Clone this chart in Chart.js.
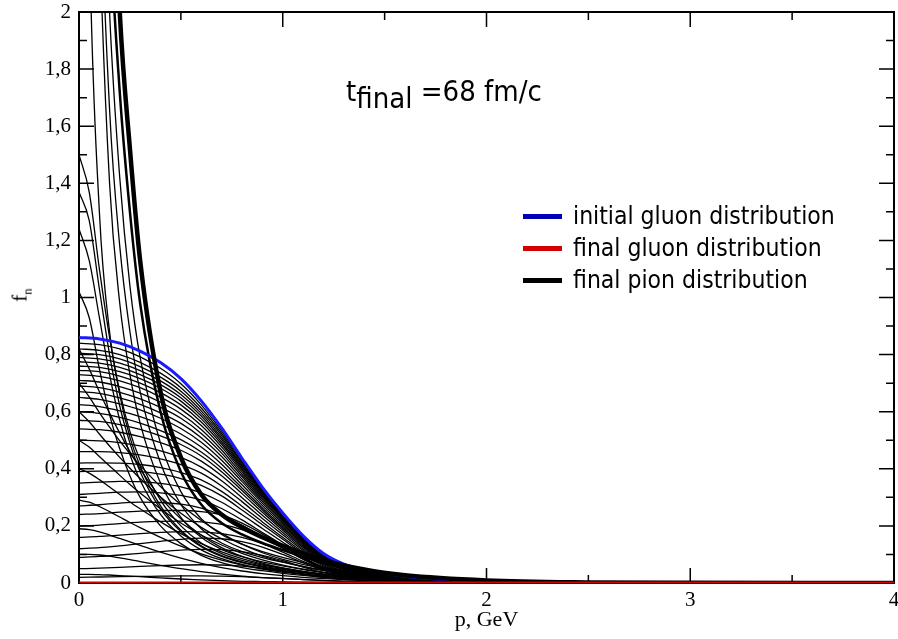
<!DOCTYPE html>
<html>
<head>
<meta charset="utf-8">
<script src="https://cdn.jsdelivr.net/npm/chart.js@4.4.1/dist/chart.umd.min.js"></script>
<style>
  body{margin:0;background:#fff;}
  #wrap{position:relative;width:898px;height:639px;}
  .txt{position:absolute;font-family:"DejaVu Sans Condensed","DejaVu Sans",sans-serif;color:#000;white-space:nowrap;}
  #tfinal{left:346px;top:73px;font-size:29px;line-height:36px;}
  #tfinal sub{font-size:100%;vertical-align:-7px;line-height:0;}
  .leg{left:523px;height:28px;line-height:28px;font-size:24.5px;}
  .leg i{display:inline-block;width:39px;height:5px;vertical-align:middle;margin-right:11px;position:relative;top:-1px;}
  #ylab{left:15px;top:281px;font-family:"Liberation Serif",serif;font-size:21px;transform:rotate(-90deg);transform-origin:center;}
  #ylab sub{font-size:60%;}
</style>
</head>
<body>
<div id="wrap">
  <canvas id="chart" width="898" height="639"></canvas>
  <div class="txt" id="tfinal">t<sub>final</sub> =68 fm/c</div>
  <div class="txt leg" style="top:202px"><i style="background:#0000b4"></i>initial gluon distribution</div>
  <div class="txt leg" style="top:234px"><i style="background:#d20000"></i>final gluon distribution</div>
  <div class="txt leg" style="top:266px"><i style="background:#000"></i>final pion distribution</div>
  <div class="txt" id="ylab">f<sub>n</sub></div>
</div>
<script>
// axis ticks
const xMajor = [0, 1, 2, 3, 4];
const xMinor = [0.5, 1.5, 2.5, 3.5];
const yMajor = [0, 0.2, 0.4, 0.6, 0.8, 1, 1.2, 1.4, 1.6, 1.8, 2];
const yMinor = [0.1, 0.3, 0.5, 0.7, 0.9, 1.1, 1.3, 1.5, 1.7, 1.9];

// momentum grids, GeV
const pGluon = [0, 0.1, 0.2, 0.3, 0.4, 0.5, 0.6, 0.7, 0.8, 0.9, 1.0, 1.1, 1.2, 1.3, 1.4, 1.6, 1.8, 2.0, 2.5, 3, 4];
const pPion  = [0, 0.05, 0.1, 0.15, 0.2, 0.25, 0.3, 0.4, 0.5, 0.6, 0.7, 0.8, 0.9, 1.0, 1.2, 1.4, 1.6, 2.0, 2.5, 3, 4];
const pFinal = [0, 4];

// initial gluon distribution (blue)
const initialGluon = [0.86, 0.855, 0.84, 0.812, 0.772, 0.716, 0.638, 0.543, 0.437, 0.335, 0.245, 0.165, 0.103, 0.066, 0.046, 0.024, 0.012, 0.006, 0.002, 0.001, 0];

// final gluon distribution (red)
const finalGluon = [0, 0];

// final pion distribution (thick black)
const finalPion = [12, 8, 4.6, 2.9, 2.0, 1.52, 1.13, 0.67, 0.44, 0.31, 0.24, 0.195, 0.16, 0.13, 0.08, 0.047, 0.027, 0.009, 0.002, 0.0005, 0];

// intermediate gluon distributions
const gluonSteps = [
  [0.84, 0.835, 0.82, 0.792, 0.752, 0.698, 0.624, 0.532, 0.43, 0.331, 0.243, 0.163, 0.102, 0.065, 0.045, 0.023, 0.012, 0.006, 0.002, 0.001, 0],
  [0.82, 0.815, 0.80, 0.773, 0.735, 0.684, 0.613, 0.524, 0.424, 0.327, 0.241, 0.162, 0.101, 0.065, 0.045, 0.023, 0.012, 0.006, 0.002, 0.001, 0],
  [0.805, 0.80, 0.785, 0.758, 0.721, 0.672, 0.603, 0.517, 0.419, 0.324, 0.239, 0.161, 0.1, 0.064, 0.044, 0.023, 0.012, 0.006, 0.002, 0.001, 0],
  [0.79, 0.785, 0.77, 0.744, 0.708, 0.66, 0.594, 0.509, 0.413, 0.32, 0.237, 0.159, 0.099, 0.064, 0.044, 0.023, 0.012, 0.006, 0.002, 0.001, 0],
  [0.775, 0.77, 0.755, 0.73, 0.695, 0.649, 0.585, 0.502, 0.408, 0.317, 0.235, 0.158, 0.098, 0.063, 0.043, 0.023, 0.012, 0.006, 0.002, 0.001, 0],
  [0.76, 0.755, 0.74, 0.716, 0.682, 0.637, 0.575, 0.494, 0.402, 0.313, 0.232, 0.156, 0.097, 0.062, 0.043, 0.022, 0.011, 0.006, 0.002, 0.001, 0],
  [0.745, 0.74, 0.725, 0.70, 0.667, 0.624, 0.564, 0.486, 0.396, 0.309, 0.229, 0.154, 0.096, 0.061, 0.042, 0.022, 0.011, 0.006, 0.002, 0.001, 0],
  [0.73, 0.724, 0.708, 0.684, 0.651, 0.609, 0.552, 0.477, 0.389, 0.304, 0.226, 0.152, 0.094, 0.06, 0.041, 0.022, 0.011, 0.005, 0.002, 0.001, 0],
  [0.71, 0.704, 0.688, 0.665, 0.633, 0.593, 0.538, 0.466, 0.381, 0.298, 0.222, 0.149, 0.092, 0.059, 0.041, 0.022, 0.011, 0.005, 0.002, 0.001, 0],
  [0.69, 0.684, 0.668, 0.645, 0.615, 0.577, 0.524, 0.455, 0.373, 0.292, 0.218, 0.146, 0.09, 0.058, 0.04, 0.021, 0.011, 0.005, 0.002, 0.001, 0],
  [0.67, 0.664, 0.648, 0.626, 0.596, 0.559, 0.509, 0.443, 0.364, 0.286, 0.213, 0.143, 0.088, 0.057, 0.039, 0.021, 0.011, 0.005, 0.002, 0.001, 0],
  [0.65, 0.643, 0.627, 0.606, 0.577, 0.541, 0.493, 0.43, 0.355, 0.279, 0.208, 0.14, 0.086, 0.056, 0.038, 0.02, 0.01, 0.005, 0.002, 0.001, 0],
  [0.625, 0.618, 0.603, 0.583, 0.556, 0.522, 0.476, 0.416, 0.344, 0.271, 0.202, 0.136, 0.084, 0.054, 0.037, 0.02, 0.01, 0.005, 0.002, 0.001, 0],
  [0.60, 0.594, 0.58, 0.56, 0.534, 0.502, 0.459, 0.402, 0.333, 0.263, 0.196, 0.132, 0.082, 0.053, 0.036, 0.019, 0.01, 0.005, 0.002, 0.001, 0],
  [0.57, 0.566, 0.555, 0.538, 0.515, 0.485, 0.445, 0.39, 0.324, 0.256, 0.191, 0.128, 0.079, 0.051, 0.035, 0.019, 0.01, 0.005, 0.002, 0.001, 0],
  [0.54, 0.537, 0.528, 0.513, 0.492, 0.465, 0.427, 0.376, 0.313, 0.248, 0.185, 0.124, 0.077, 0.05, 0.034, 0.018, 0.009, 0.005, 0.002, 0.001, 0],
  [0.50, 0.498, 0.492, 0.48, 0.463, 0.44, 0.406, 0.358, 0.299, 0.237, 0.177, 0.119, 0.074, 0.048, 0.033, 0.018, 0.009, 0.004, 0.002, 0.001, 0],
  [0.46, 0.46, 0.457, 0.449, 0.435, 0.415, 0.385, 0.34, 0.285, 0.226, 0.169, 0.114, 0.071, 0.046, 0.031, 0.017, 0.009, 0.004, 0.002, 0.001, 0],
  [0.42, 0.421, 0.42, 0.415, 0.404, 0.387, 0.361, 0.321, 0.269, 0.214, 0.16, 0.108, 0.067, 0.043, 0.03, 0.016, 0.008, 0.004, 0.001, 0, 0],
  [0.39, 0.392, 0.393, 0.39, 0.381, 0.366, 0.342, 0.305, 0.256, 0.204, 0.153, 0.103, 0.064, 0.041, 0.029, 0.015, 0.008, 0.004, 0.001, 0, 0],
  [0.35, 0.353, 0.356, 0.355, 0.349, 0.337, 0.316, 0.283, 0.239, 0.191, 0.143, 0.097, 0.06, 0.039, 0.027, 0.014, 0.007, 0.004, 0.001, 0, 0],
  [0.31, 0.314, 0.318, 0.319, 0.316, 0.307, 0.29, 0.261, 0.221, 0.177, 0.133, 0.09, 0.056, 0.036, 0.025, 0.013, 0.007, 0.003, 0.001, 0, 0],
  [0.27, 0.274, 0.28, 0.283, 0.282, 0.276, 0.262, 0.237, 0.202, 0.162, 0.122, 0.083, 0.052, 0.033, 0.023, 0.012, 0.006, 0.003, 0.001, 0, 0],
  [0.24, 0.243, 0.248, 0.252, 0.254, 0.254, 0.25, 0.238, 0.21, 0.172, 0.13, 0.088, 0.054, 0.035, 0.024, 0.013, 0.007, 0.003, 0.001, 0, 0],
  [0.20, 0.203, 0.208, 0.213, 0.216, 0.217, 0.214, 0.205, 0.187, 0.158, 0.122, 0.084, 0.052, 0.034, 0.023, 0.012, 0.006, 0.003, 0.001, 0, 0],
  [0.16, 0.163, 0.168, 0.173, 0.177, 0.18, 0.179, 0.173, 0.16, 0.138, 0.108, 0.076, 0.048, 0.031, 0.021, 0.011, 0.006, 0.003, 0.001, 0, 0],
  [0.12, 0.124, 0.13, 0.138, 0.146, 0.153, 0.157, 0.155, 0.145, 0.126, 0.10, 0.071, 0.045, 0.029, 0.02, 0.011, 0.005, 0.002, 0.001, 0, 0],
  [0.09, 0.093, 0.098, 0.104, 0.11, 0.115, 0.118, 0.117, 0.11, 0.097, 0.078, 0.056, 0.036, 0.024, 0.016, 0.009, 0.004, 0.002, 0, 0, 0],
  [0.05, 0.052, 0.055, 0.058, 0.061, 0.063, 0.064, 0.063, 0.059, 0.052, 0.042, 0.031, 0.02, 0.013, 0.009, 0.005, 0.002, 0.001, 0, 0, 0],
  [0.02, 0.021, 0.022, 0.023, 0.024, 0.025, 0.025, 0.024, 0.022, 0.019, 0.016, 0.012, 0.008, 0.005, 0.003, 0.002, 0.001, 0, 0, 0, 0]
];

// intermediate pion distributions
const pionSteps = [
  [0.03, 0.03, 0.029, 0.028, 0.026, 0.024, 0.022, 0.018, 0.014, 0.011, 0.008, 0.006, 0.005, 0.004, 0.002, 0.001, 0.001, 0, 0, 0, 0],
  [0.10, 0.10, 0.098, 0.094, 0.088, 0.082, 0.075, 0.062, 0.05, 0.04, 0.031, 0.024, 0.019, 0.015, 0.009, 0.005, 0.003, 0.001, 0, 0, 0],
  [0.19, 0.187, 0.179, 0.168, 0.156, 0.144, 0.132, 0.108, 0.087, 0.069, 0.054, 0.042, 0.033, 0.026, 0.015, 0.009, 0.005, 0.002, 0, 0, 0],
  [0.29, 0.283, 0.268, 0.25, 0.231, 0.212, 0.194, 0.16, 0.129, 0.102, 0.08, 0.063, 0.049, 0.038, 0.023, 0.013, 0.008, 0.002, 0, 0, 0],
  [0.40, 0.385, 0.362, 0.336, 0.31, 0.284, 0.26, 0.214, 0.173, 0.138, 0.109, 0.085, 0.066, 0.052, 0.031, 0.018, 0.01, 0.003, 0.001, 0, 0],
  [0.50, 0.476, 0.443, 0.41, 0.377, 0.345, 0.315, 0.26, 0.21, 0.168, 0.133, 0.104, 0.081, 0.063, 0.038, 0.022, 0.013, 0.004, 0.001, 0, 0],
  [0.60, 0.565, 0.522, 0.48, 0.44, 0.402, 0.366, 0.301, 0.244, 0.195, 0.155, 0.121, 0.094, 0.074, 0.044, 0.026, 0.015, 0.005, 0.001, 0, 0],
  [0.70, 0.652, 0.597, 0.546, 0.498, 0.453, 0.412, 0.338, 0.274, 0.219, 0.174, 0.136, 0.106, 0.083, 0.05, 0.029, 0.017, 0.005, 0.001, 0, 0],
  [0.82, 0.75, 0.67, 0.595, 0.525, 0.46, 0.40, 0.30, 0.225, 0.167, 0.124, 0.093, 0.07, 0.053, 0.03, 0.017, 0.01, 0.003, 0.001, 0, 0],
  [1.02, 0.93, 0.75, 0.59, 0.47, 0.375, 0.30, 0.20, 0.138, 0.097, 0.071, 0.054, 0.043, 0.034, 0.02, 0.012, 0.007, 0.002, 0, 0, 0],
  [1.24, 1.13, 0.93, 0.73, 0.57, 0.45, 0.36, 0.24, 0.165, 0.116, 0.085, 0.065, 0.051, 0.041, 0.024, 0.014, 0.008, 0.002, 0, 0, 0],
  [1.37, 1.27, 1.03, 0.80, 0.62, 0.49, 0.39, 0.26, 0.18, 0.127, 0.093, 0.071, 0.056, 0.045, 0.027, 0.016, 0.009, 0.003, 0, 0, 0],
  [1.50, 1.37, 1.10, 0.86, 0.67, 0.53, 0.43, 0.29, 0.20, 0.14, 0.103, 0.079, 0.063, 0.051, 0.03, 0.018, 0.01, 0.003, 0, 0, 0],
  [5, 2.3, 1.3, 0.88, 0.66, 0.51, 0.41, 0.27, 0.185, 0.13, 0.096, 0.074, 0.059, 0.048, 0.029, 0.017, 0.01, 0.003, 0, 0, 0],
  [7, 4.0, 2.3, 1.40, 0.98, 0.73, 0.56, 0.35, 0.23, 0.16, 0.118, 0.092, 0.074, 0.06, 0.036, 0.021, 0.012, 0.004, 0.001, 0, 0],
  [8, 4.6, 2.6, 1.66, 1.18, 0.88, 0.67, 0.42, 0.275, 0.19, 0.14, 0.11, 0.089, 0.073, 0.044, 0.026, 0.015, 0.005, 0.001, 0, 0],
  [9, 5.5, 3.0, 2.0, 1.42, 1.04, 0.79, 0.49, 0.32, 0.225, 0.17, 0.136, 0.11, 0.09, 0.055, 0.032, 0.019, 0.006, 0.001, 0, 0],
  [10, 6.5, 3.6, 2.35, 1.72, 1.30, 0.98, 0.60, 0.39, 0.275, 0.21, 0.17, 0.14, 0.115, 0.07, 0.041, 0.024, 0.008, 0.002, 0.0005, 0]
];

function toPoints(xs, ys){
  return xs.map((x, i) => ({x: x, y: ys[i]}));
}

function curve(xs, ys, color, width){
  return {
    data: toPoints(xs, ys),
    borderColor: color,
    borderWidth: width,
    pointRadius: 0,
    fill: false,
    cubicInterpolationMode: "monotone"
  };
}

// first dataset ends up on top
let datasets = [];
datasets.push(curve(pFinal, finalGluon, "#d20000", 3));
datasets.push(curve(pPion, finalPion, "#000", 4.5));
datasets.push(curve(pGluon, initialGluon, "#1a1aff", 3));
pionSteps.forEach((s, i) => datasets.push(curve(pPion, s, "#000", i === pionSteps.length - 1 ? 2.5 : 1.3)));
gluonSteps.forEach(s => datasets.push(curve(pGluon, s, "#000", 1.3)));

// frame with inward ticks on all four sides
const frameTicks = {
  id: "frameTicks",
  beforeDatasetsDraw(chart){
    const {ctx, chartArea: a, scales: {x, y}} = chart;
    ctx.save();
    ctx.strokeStyle = "#000";
    ctx.lineWidth = 1.5;
    ctx.beginPath();
    const tx = (v, len) => {
      let px = x.getPixelForValue(v);
      ctx.moveTo(px, a.bottom); ctx.lineTo(px, a.bottom - len);
      ctx.moveTo(px, a.top); ctx.lineTo(px, a.top + len);
    };
    const ty = (v, len) => {
      let py = y.getPixelForValue(v);
      ctx.moveTo(a.left, py); ctx.lineTo(a.left + len, py);
      ctx.moveTo(a.right, py); ctx.lineTo(a.right - len, py);
    };
    xMajor.forEach(v => tx(v, 15));
    xMinor.forEach(v => tx(v, 8));
    yMajor.forEach(v => ty(v, 15));
    yMinor.forEach(v => ty(v, 8));
    ctx.stroke();
    ctx.lineWidth = 2;
    ctx.strokeRect(a.left, a.top, a.right - a.left, a.bottom - a.top);
    ctx.restore();
  }
};

const serif = {family: "'Liberation Serif', 'Times New Roman', serif", size: 21};

new Chart(document.getElementById("chart"), {
  type: "line",
  data: {datasets: datasets},
  options: {
    responsive: false,
    animation: false,
    layout: {padding: {top: 12, right: 4, left: 0, bottom: 0}},
    plugins: {legend: {display: false}, tooltip: {enabled: false}},
    scales: {
      x: {
        type: "linear", min: 0, max: 4,
        grid: {display: false, drawTicks: false, tickLength: 0}, border: {display: false},
        afterBuildTicks: s => { s.ticks = xMajor.map(v => ({value: v})); },
        afterFit: s => { s.height = 56; s.paddingLeft = 0; s.paddingRight = 0; },
        ticks: {color: "#000", font: serif, padding: 5, maxRotation: 0, callback: v => String(v)},
        title: {display: true, text: "p, GeV", color: "#000", font: {family: serif.family, size: 22}, padding: {top: 0, bottom: 6}}
      },
      y: {
        type: "linear", min: 0, max: 2,
        grid: {display: false, drawTicks: false, tickLength: 0}, border: {display: false},
        afterBuildTicks: s => { s.ticks = yMajor.map(v => ({value: v})); },
        afterFit: s => { s.width = 79; s.paddingTop = 0; s.paddingBottom = 0; },
        ticks: {color: "#000", font: serif, padding: 8, callback: v => String(Math.round(v * 10) / 10).replace(".", ",")}
      }
    }
  },
  plugins: [frameTicks]
});
</script>
</body>
</html>
